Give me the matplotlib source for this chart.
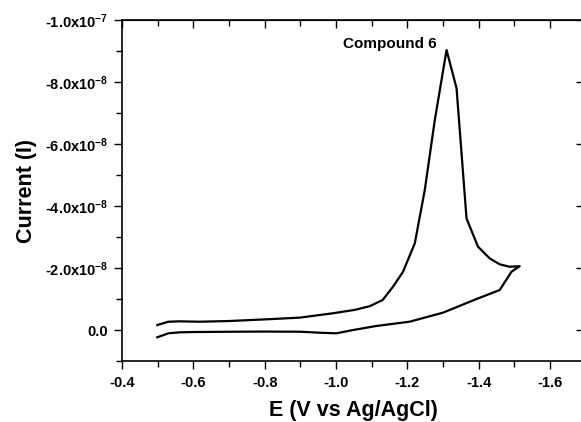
import numpy as np
import matplotlib
matplotlib.use("Agg")
import matplotlib.pyplot as plt
from matplotlib.ticker import FixedLocator, MultipleLocator

plt.rcParams['font.family'] = ['Liberation Sans', 'DejaVu Sans']
plt.rcParams['font.weight'] = 'bold'
plt.rcParams['mathtext.fontset'] = 'custom'
plt.rcParams['mathtext.rm'] = 'Liberation Sans:bold'
plt.rcParams['mathtext.bf'] = 'Liberation Sans:bold'
plt.rcParams['mathtext.it'] = 'Liberation Sans:bold'

# forward (cathodic) scan
e_fwd = [-0.499, -0.530, -0.560, -0.618, -0.700, -0.805, -0.899, -0.991, -1.053, -1.095,
         -1.131, -1.160, -1.188, -1.221, -1.249, -1.277, -1.310, -1.338, -1.366, -1.398,
         -1.431, -1.459, -1.487, -1.515]
i_fwd = [-1.61e-9, -2.68e-9, -2.8e-9, -2.68e-9, -2.9e-9, -3.45e-9, -4.0e-9, -5.4e-9,
         -6.5e-9, -7.7e-9, -9.7e-9, -1.40e-8, -1.88e-8, -2.80e-8, -4.52e-8, -6.77e-8,
         -9.03e-8, -7.80e-8, -3.60e-8, -2.69e-8, -2.31e-8, -2.12e-8, -2.04e-8, -2.06e-8]
# reverse scan
e_rev = [-1.515, -1.492, -1.459, -1.394, -1.300, -1.207, -1.113, -1.048, -1.001,
         -0.960, -0.899, -0.800, -0.712, -0.600, -0.562, -0.530, -0.499]
i_rev = [-2.06e-8, -1.88e-8, -1.29e-8, -1.0e-8, -5.6e-9, -2.7e-9, -1.3e-9, 0.0,
         1.06e-9, 9.0e-10, 5.5e-10, 5.0e-10, 5.5e-10, 6.5e-10, 7.4e-10, 1.06e-9, 2.35e-9]

y_ticks = [0.0, -2e-8, -4e-8, -6e-8, -8e-8, -1e-7]
y_labels = ['0.0', r'-2.0x10$^{-8}$', r'-4.0x10$^{-8}$', r'-6.0x10$^{-8}$',
            r'-8.0x10$^{-8}$', r'-1.0x10$^{-7}$']
x_ticks = [-0.4, -0.6, -0.8, -1.0, -1.2, -1.4, -1.6]
x_labels = ['-0.4', '-0.6', '-0.8', '-1.0', '-1.2', '-1.4', '-1.6']

fig = plt.figure(figsize=(5.81, 4.22), dpi=100)
# right spine sits just past the image edge, as in the reference
ax = fig.add_axes([0.21, 0.1445, 0.798, 0.8081])

ax.plot(e_fwd + e_rev, i_fwd + i_rev, color='black', lw=1.6, solid_joinstyle='round')

ax.set_xlim(-0.4, -1.7)
ax.set_ylim(1e-8, -1e-7)

ax.xaxis.set_major_locator(FixedLocator(x_ticks))
ax.set_xticklabels(x_labels)
ax.xaxis.set_minor_locator(MultipleLocator(0.1))
ax.yaxis.set_major_locator(FixedLocator(y_ticks))
ax.set_yticklabels(y_labels)
ax.yaxis.set_minor_locator(MultipleLocator(1e-8))

ax.tick_params(which='both', direction='out', labelsize=10.5, width=1.0)
ax.tick_params(which='major', length=6)
ax.tick_params(which='minor', length=4)
ax.tick_params(axis='x', pad=5)
ax.tick_params(axis='y', pad=4)
for sp in ax.spines.values():
    sp.set_linewidth(1.2)

# inward mirror ticks on top and right
top = ax.secondary_xaxis('top')
top.xaxis.set_major_locator(FixedLocator(x_ticks))
top.xaxis.set_minor_locator(MultipleLocator(0.1))
top.tick_params(which='both', direction='in', labeltop=False, width=1.0)
top.tick_params(which='major', length=6)
top.tick_params(which='minor', length=4)
right = ax.secondary_yaxis('right')
right.yaxis.set_major_locator(FixedLocator(y_ticks))
right.yaxis.set_minor_locator(MultipleLocator(1e-8))
right.tick_params(which='both', direction='in', labelright=False, width=1.0)
right.tick_params(which='major', length=7)
right.tick_params(which='minor', length=3)

ax.set_xlabel('E (V vs Ag/AgCl)', fontsize=15.5, fontweight='bold', labelpad=7)
ax.set_ylabel('Current (I)', fontsize=15.5, fontweight='bold', labelpad=6)

ax.text(-1.283, -9.0e-8, 'Compound 6', fontsize=11, fontweight='bold',
        ha='right', va='bottom')

fig.savefig('out.png', dpi=100)
